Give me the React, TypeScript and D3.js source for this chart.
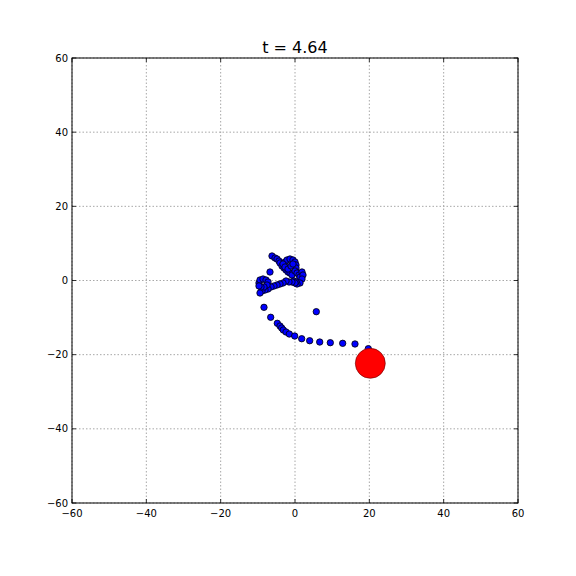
import { useRef, useEffect } from 'react';
import * as d3 from 'd3';

// particle positions at t = 4.64
const xs = [
  -6.19, -5.38, -4.84, -4.30, -4.04, -3.50, -2.96, -2.42, -1.88, -1.35, -0.81,
  -2.69, -2.15, -1.35, -0.54, 0, 0.27, 0.27, 0, 0.54, 1.08, 1.35,
  -3.23, -2.69, -1.88, -1.08, -0.54,
  1.88, 2.15, 1.88, 1.35, 0.54,
  -0.27, 0.27, 0,
  -0.81, -1.61, -2.42, -3.23, -4.04, -4.84, -5.65, -6.46, -7.26, -8.07, -8.88,
  -9.69, -9.42, -8.61, -7.80, -7.26, -7.53, -8.34, -9.15, -9.69,
  -6.73, -9.42,
  -8.34, -6.54, -4.76, -4.04, -3.58, -3.15, -2.42, -1.53, -0.08, 1.80, 3.95, 6.65, 9.50, 12.83, 16.14, 19.72,
  5.73,
];
const ys = [
  6.61, 6.07, 5.80, 5.26, 4.72, 3.91, 3.37, 2.83, 2.29, 2.02, 1.48,
  4.99, 5.53, 5.80, 5.53, 4.99, 4.18, 3.37, 2.56, 2.02, 1.48, 0.94,
  4.45, 3.64, 3.10, 3.91, 4.45,
  2.29, 1.48, 0.40, -0.67, -0.94,
  -0.13, -0.40, -0.67,
  -0.40, -0.40, -0.13, -0.67, -0.94, -1.21, -1.48, -1.75, -2.29, -2.56, -2.83,
  -0.67, 0.13, 0.40, 0.13, -0.40, -1.21, -1.75, -1.75, -1.48,
  2.29, -3.37,
  -7.23, -9.92, -11.54, -12.27, -12.81, -13.35, -13.89, -14.43, -14.97, -15.70, -16.24, -16.59, -16.77, -16.94, -17.12, -18.39,
  -8.41,
];
const ball = { x: 20.26, y: -22.33 };
const ticks = [-60, -40, -20, 0, 20, 40, 60];
const title = 't = 4.64';

export default function App() {
  const ref = useRef<SVGSVGElement>(null);

  useEffect(() => {
    if (!ref.current) return;
    const svg = d3.select(ref.current);
    svg.selectAll('*').remove();

    const left = 72, right = 518, top = 58, bottom = 503;
    const x = d3.scaleLinear().domain([-60, 60]).range([left, right]);
    const y = d3.scaleLinear().domain([-60, 60]).range([bottom, top]);
    const font = 'DejaVu Sans, sans-serif';

    svg.append('rect').attr('width', 576).attr('height', 576).attr('fill', '#fff');

    // grid
    const grid = svg.append('g').attr('stroke', '#a8a8a8').attr('stroke-width', 1).attr('stroke-dasharray', '1.5,2');
    ticks.forEach((t) => {
      grid.append('line').attr('x1', x(t)).attr('x2', x(t)).attr('y1', top).attr('y2', bottom);
      grid.append('line').attr('y1', y(t)).attr('y2', y(t)).attr('x1', left).attr('x2', right);
    });

    // points
    const plot = svg.append('g');
    xs.forEach((vx, i) => {
      plot.append('circle').attr('cx', x(vx)).attr('cy', y(ys[i])).attr('r', 3.2)
        .attr('fill', '#0000ff').attr('stroke', '#000').attr('stroke-width', 0.8);
    });
    plot.append('circle').attr('cx', x(ball.x)).attr('cy', y(ball.y)).attr('r', 15)
      .attr('fill', '#ff0000').attr('stroke', '#600').attr('stroke-width', 0.6);

    // frame
    svg.append('rect').attr('x', left).attr('y', top).attr('width', right - left).attr('height', bottom - top)
      .attr('fill', 'none').attr('stroke', '#000').attr('stroke-width', 1);

    // inward ticks on all sides
    const tk = svg.append('g').attr('stroke', '#000').attr('stroke-width', 0.8);
    ticks.forEach((t) => {
      tk.append('line').attr('x1', x(t)).attr('x2', x(t)).attr('y1', bottom).attr('y2', bottom - 4);
      tk.append('line').attr('x1', x(t)).attr('x2', x(t)).attr('y1', top).attr('y2', top + 4);
      tk.append('line').attr('y1', y(t)).attr('y2', y(t)).attr('x1', left).attr('x2', left + 4);
      tk.append('line').attr('y1', y(t)).attr('y2', y(t)).attr('x1', right).attr('x2', right - 4);
    });

    const fmt = (t: number) => (t < 0 ? '\u2212' + Math.abs(t) : String(t));
    ticks.forEach((t) => {
      svg.append('text').attr('x', x(t)).attr('y', bottom + 14).attr('text-anchor', 'middle')
        .attr('font-family', font).attr('font-size', 10).text(fmt(t));
      svg.append('text').attr('x', left - 4).attr('y', y(t)).attr('dy', '0.35em').attr('text-anchor', 'end')
        .attr('font-family', font).attr('font-size', 10).text(fmt(t));
    });

    svg.append('text').attr('x', (left + right) / 2).attr('y', top - 5).attr('text-anchor', 'middle')
      .attr('font-family', font).attr('font-size', 16).text(title);
  }, []);

  return <svg ref={ref} width={576} height={576} style={{ display: 'block', margin: -8 }} />;
}
